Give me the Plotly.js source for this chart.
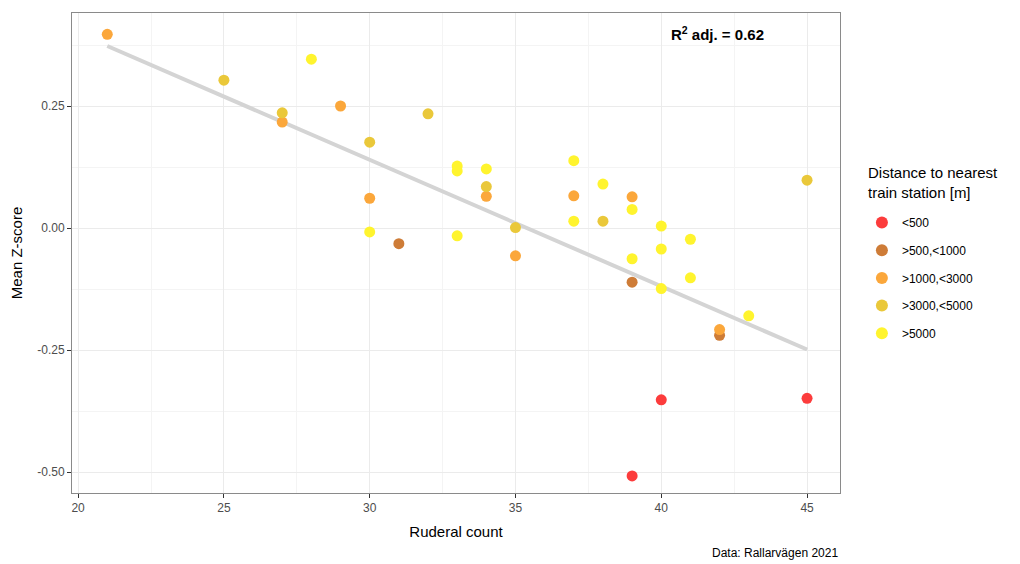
<!DOCTYPE html>
<html>
<head>
<meta charset="utf-8">
<script src="https://cdn.plot.ly/plotly-3.0.1.min.js"></script>
<style>html,body{margin:0;padding:0;background:#fff;}#chart{width:1020px;height:564px;}</style>
</head>
<body>
<div id="chart"></div>
<script>
// Distance classes (legend order)
const groups = ["<500", ">500,<1000", ">1000,<3000", ">3000,<5000", ">5000"];
const groupColors = ["#FC3C3C", "#CE7C37", "#FBA73B", "#EAC83A", "#FFF42E"];

// Ruderal count (x) and mean Z-score (y) per class
const xLt500 = [40, 45, 39];
const yLt500 = [-0.352, -0.349, -0.508];

const x500to1000 = [31, 39, 42];
const y500to1000 = [-0.032, -0.111, -0.220];

const x1000to3000 = [21, 27, 29, 30, 34, 35, 37, 39, 42];
const y1000to3000 = [0.397, 0.217, 0.250, 0.061, 0.065, -0.057, 0.066, 0.064, -0.208];

const x3000to5000 = [25, 27, 30, 32, 34, 35, 38, 45];
const y3000to5000 = [0.303, 0.236, 0.176, 0.234, 0.085, 0.001, 0.014, 0.098];

const xGt5000 = [28, 30, 33, 33, 33, 34, 37, 37, 38, 39, 39, 40, 40, 40, 41, 41, 43];
const yGt5000 = [0.346, -0.008, 0.127, 0.117, -0.016, 0.121, 0.138, 0.014, 0.090, 0.038, -0.063, 0.004, -0.043, -0.124, -0.023, -0.102, -0.180];

// fitted regression line
const fitX = [21, 45];
const fitY = [0.373, -0.249];

const xTicks = [20, 25, 30, 35, 40, 45];
const yTicks = [-0.50, -0.25, 0.00, 0.25];

const seriesX = [xLt500, x500to1000, x1000to3000, x3000to5000, xGt5000];
const seriesY = [yLt500, y500to1000, y1000to3000, y3000to5000, yGt5000];

const traces = [{
  x: fitX,
  y: fitY,
  mode: "lines",
  line: { color: "#D4D4D4", width: 4 },
  showlegend: false,
  hoverinfo: "skip"
}];

groups.forEach((g, i) => {
  traces.push({
    x: seriesX[i],
    y: seriesY[i],
    name: g,
    legendgroup: g,
    mode: "markers",
    type: "scatter",
    marker: { color: groupColors[i], size: 11, line: { width: 0 } }
  });
});

const layout = {
  width: 1020,
  height: 564,
  paper_bgcolor: "#fff",
  plot_bgcolor: "#fff",
  margin: { l: 72, r: 180, t: 13, b: 71 },
  font: { family: "Liberation Sans, Arial, sans-serif", color: "#000" },
  showlegend: true,
  xaxis: {
    range: [19.79, 46.13],
    tickvals: xTicks,
    ticktext: xTicks.map(String),
    ticks: "outside",
    ticklen: 4,
    tickcolor: "#333",
    tickfont: { size: 12, color: "#4D4D4D" },
    showgrid: true,
    gridcolor: "#EBEBEB",
    gridwidth: 1,
    minor: { dtick: 2.5, tick0: 20, showgrid: true, gridcolor: "#F4F4F4", gridwidth: 1, ticks: "" },
    zeroline: false,
    showline: true,
    linecolor: "#8A8A8A",
    linewidth: 1,
    mirror: true,
    title: { text: "Ruderal count", font: { size: 15, color: "#000" }, standoff: 12 }
  },
  yaxis: {
    range: [-0.543, 0.4406],
    tickvals: yTicks,
    ticktext: yTicks.map(v => v.toFixed(2)),
    ticks: "outside",
    ticklen: 4,
    tickcolor: "#333",
    tickfont: { size: 12, color: "#4D4D4D" },
    showgrid: true,
    gridcolor: "#EBEBEB",
    gridwidth: 1,
    minor: { dtick: 0.125, tick0: -0.5, showgrid: true, gridcolor: "#F4F4F4", gridwidth: 1, ticks: "" },
    zeroline: false,
    showline: true,
    linecolor: "#8A8A8A",
    linewidth: 1,
    mirror: true,
    title: { text: "Mean Z-score", font: { size: 15, color: "#000" }, standoff: 10 }
  },
  legend: {
    xref: "container", yref: "container",
    x: 0.845, y: 1 - 208 / 564, xanchor: "left", yanchor: "top",
    font: { size: 12, color: "#000" },
    traceorder: "grouped",
    tracegroupgap: 8.7,
    itemsizing: "constant",
    bgcolor: "rgba(0,0,0,0)"
  },
  annotations: [
    {
      xref: "paper", yref: "paper",
      x: (717 - 72) / 768, y: (493 - 34) / 480,
      xanchor: "center", yanchor: "middle",
      text: "<b>R<sup>2</sup> adj. = 0.62</b>",
      showarrow: false,
      font: { size: 15, color: "#000" }
    },
    {
      xref: "paper", yref: "paper",
      x: (866 - 72) / 768, y: (493 - 162) / 480,
      xanchor: "left", yanchor: "top", align: "left",
      text: "Distance to nearest<br>train station [m]",
      showarrow: false,
      font: { size: 15, color: "#000" }
    },
    {
      xref: "paper", yref: "paper",
      x: 1, y: (493 - 553) / 480,
      xanchor: "right", yanchor: "middle",
      text: "Data: Rallarvägen 2021",
      showarrow: false,
      font: { size: 12, color: "#000" }
    }
  ]
};

Plotly.newPlot("chart", traces, layout, { displayModeBar: false, staticPlot: true });
</script>
</body>
</html>
